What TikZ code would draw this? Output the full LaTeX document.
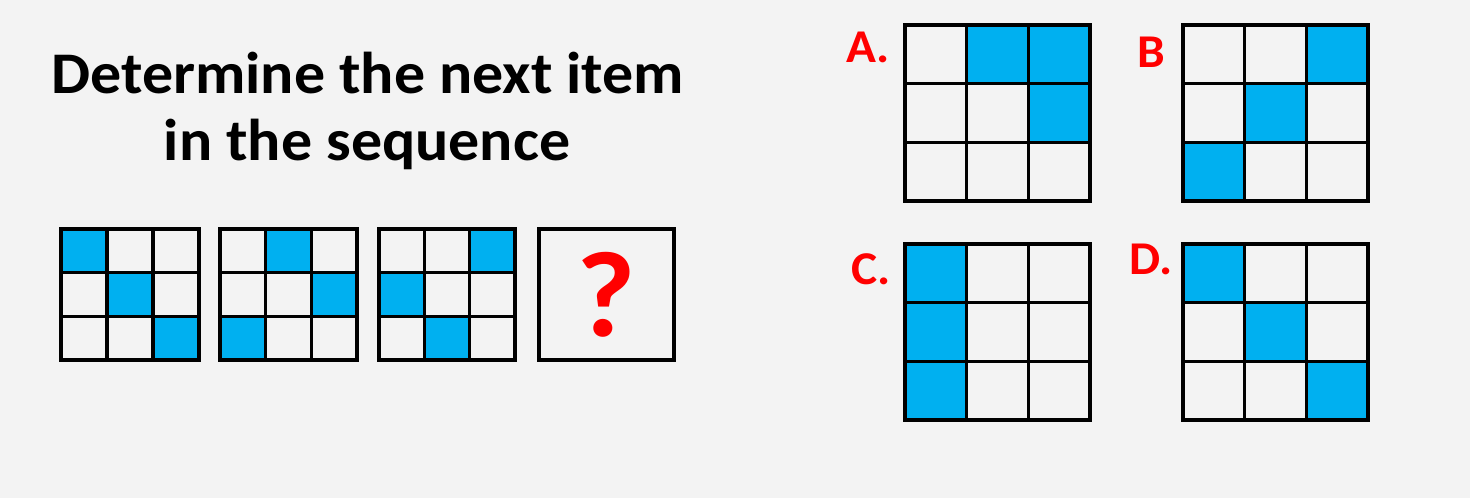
\documentclass[tikz,border=0pt]{standalone}
\usepackage{fontspec}
\setmainfont{Carlito}[FakeStretch=1.05]
\definecolor{bgray}{HTML}{F3F3F3}
\definecolor{cellblue}{HTML}{00B0F0}
\definecolor{qred}{HTML}{FF0000}

\begin{document}
\begin{tikzpicture}[x=1pt,y=-1pt,
    outer/.style={line width=4.2pt},
    inner/.style={line width=3.2pt},
    optlabel/.style={text=qred,font=\fontsize{47}{50}\selectfont\bfseries,inner sep=0pt,anchor=base west}]
      \fill[bgray] (0,0) rectangle (1470,498) ;
      \useasboundingbox (0,0) rectangle (1470,498) ;
      \node[font=\fontsize{59}{67}\selectfont\bfseries,inner sep=0pt,anchor=base] %
      (title1) at (368,93) {Determine the next item} ;
      \node[font=\fontsize{59}{67}\selectfont\bfseries,inner sep=0pt,anchor=base] %
      (title2) at (367,160) {in the sequence} ;
      \foreach \gx/\gy/\gw/\gh/\cells in {61/229/138/131/{0/0,1/1,2/2},
          220/229/137/131/{1/0,2/1,0/2}, 379/229/136/131/{2/0,0/1,1/2},
          905/25/185/176/{1/0,2/0,2/1}, 1183/25/185/176/{2/0,1/1,0/2},
          905/244/185/176/{0/0,0/1,0/2}, 1183/244/185/176/{0/0,1/1,2/2}}
      {
        \foreach \c/\r in \cells
          \fill[cellblue] (\gx+\c*\gw/3,\gy+\r*\gh/3) rectangle ++(\gw/3,\gh/3) ;
        \foreach \k in {1,2} {
          \draw[inner] (\gx+\k*\gw/3,\gy)--++(0,\gh) ;
          \draw[inner] (\gx,\gy+\k*\gh/3)--++(\gw,0) ;
        }
        \draw[outer] (\gx,\gy) rectangle ++(\gw,\gh) ;
      }
      \node[draw,outer,minimum width=135pt,minimum height=131pt,inner sep=0pt, %
      text=qred,font=\fontsize{122}{122}\selectfont\bfseries] (next) at (606.5,294.5) {?} ;
      \node[optlabel] (labA) at (846,62) {A.} ;
      \node[optlabel] (labB) at (1137,67) {B} ;
      \node[optlabel] (labC) at (851,284) {C.} ;
      \node[optlabel] (labD) at (1129,274) {D.} ;
    \end{tikzpicture}
\end{document}
